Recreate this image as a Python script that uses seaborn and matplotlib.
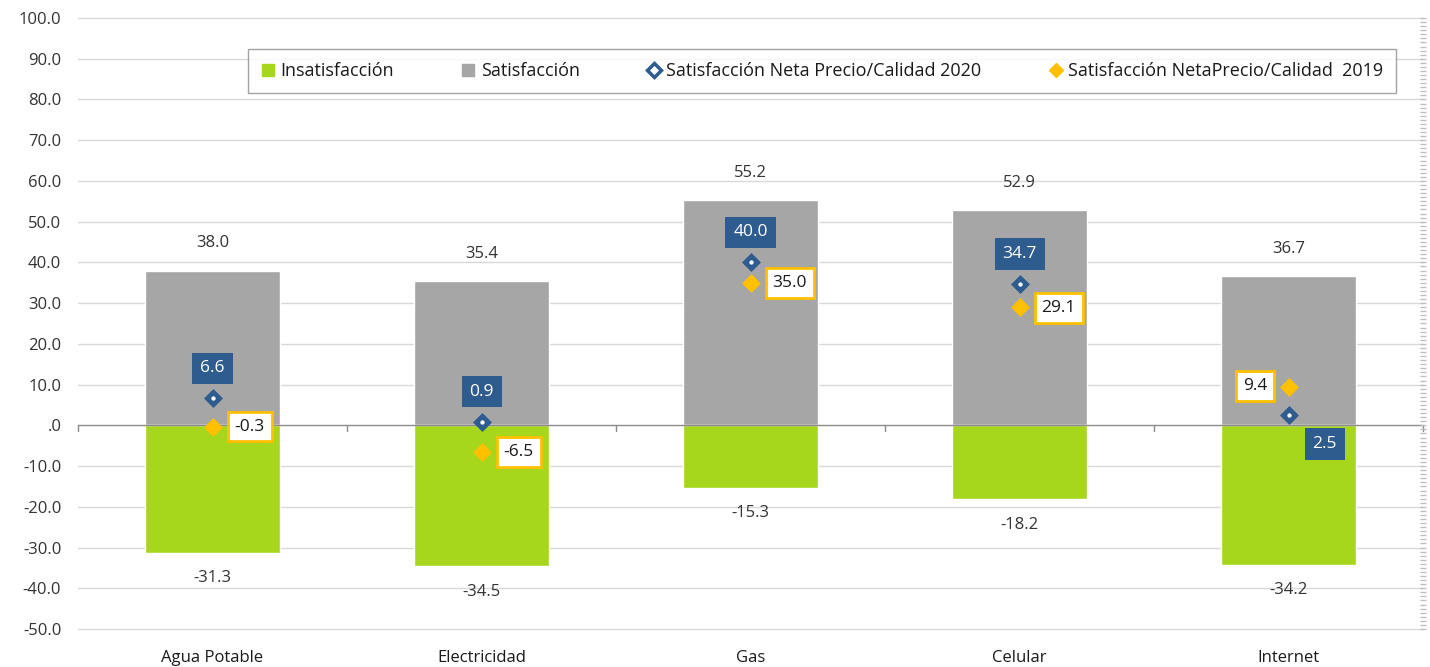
import matplotlib
matplotlib.use("Agg")
import matplotlib.pyplot as plt
from matplotlib.lines import Line2D
from matplotlib.ticker import MultipleLocator, FixedLocator
import seaborn as sns
import pandas as pd
import numpy as np

categories = ["Agua Potable", "Electricidad", "Gas", "Celular", "Internet"]
satisfaccion = [38.0, 35.4, 55.2, 52.9, 36.7]
insatisfaccion = [-31.3, -34.5, -15.3, -18.2, -34.2]
neta_2020 = [6.6, 0.9, 40.0, 34.7, 2.5]
neta_2019 = [-0.3, -6.5, 35.0, 29.1, 9.4]
ytick_values = [-50, -40, -30, -20, -10, 0, 10, 20, 30, 40, 50, 60, 70, 80, 90, 100]
ytick_labels = ["-50.0", "-40.0", "-30.0", "-20.0", "-10.0", ".0", "10.0", "20.0",
                "30.0", "40.0", "50.0", "60.0", "70.0", "80.0", "90.0", "100.0"]

GREEN = "#A6D71C"
GRAY = "#A6A6A6"
BLUE = "#2F5C8F"
GOLD = "#FFC000"
TXT = "#333333"

sns.set_theme(style="white")
plt.rcParams["font.family"] = ["Open Sans", "DejaVu Sans"]
plt.rcParams["font.size"] = 11

df = pd.DataFrame({"cat": categories, "sat": satisfaccion, "insat": insatisfaccion,
                   "n20": neta_2020, "n19": neta_2019})

fig = plt.figure(figsize=(14.3, 6.67), dpi=100)
ax = fig.add_axes([78 / 1430, 1 - 629 / 667, (1423 - 78) / 1430, (629 - 18) / 667])

# gridlines
for v in ytick_values:
    if v != 0:
        ax.axhline(v, color="#D9D9D9", lw=1.0, zorder=0, clip_on=False)

sns.barplot(data=df, x="cat", y="sat", color=GRAY, width=0.5, saturation=1,
            ax=ax, zorder=2)
sns.barplot(data=df, x="cat", y="insat", color=GREEN, width=0.5, saturation=1,
            ax=ax, zorder=2)

# zero axis line with boundary ticks
ax.axhline(0, color="#8C8C8C", lw=1.0, zorder=3)
for b in np.arange(-0.5, 5.0, 1.0):
    ax.plot([b, b], [0, -1.3], color="#8C8C8C", lw=1.0, zorder=3, clip_on=False)

xs = np.arange(len(categories))
sns.scatterplot(x=xs, y=neta_2019, marker="D", s=80, color=GOLD, edgecolor=GOLD,
                ax=ax, zorder=5, legend=False)
sns.scatterplot(x=xs, y=neta_2020, marker="D", s=80, color=BLUE, edgecolor=BLUE,
                ax=ax, zorder=5, legend=False)
sns.scatterplot(x=xs, y=neta_2020, marker="o", s=8, color="white", edgecolor="white",
                ax=ax, zorder=6, legend=False)

# bar value labels
for i, (s, n) in enumerate(zip(satisfaccion, insatisfaccion)):
    ax.text(i, s + 6.7, f"{s:.1f}", ha="center", va="center", color=TXT, fontsize=12)
    ax.text(i, n - 6.3, f"{n:.1f}", ha="center", va="center", color=TXT, fontsize=12)

# marker labels
off20 = [(0, 30, "center"), (0, 30, "center"), (0, 30, "center"), (0, 30, "center"), (24, -29, "left")]
off19 = [(22, 0, "left"), (22, 0, "left"), (22, 0, "left"), (22, -1, "left"), (-21, 1, "right")]
for i in range(len(categories)):
    dx, dy, ha = off20[i]
    ax.annotate(f"{neta_2020[i]:.1f}", (i, neta_2020[i]), xytext=(dx, dy),
                textcoords="offset pixels", ha=ha, va="center", color="white",
                fontsize=12.5, zorder=7,
                bbox=dict(boxstyle="square,pad=0.45", fc=BLUE, ec=BLUE, lw=0))
    dx, dy, ha = off19[i]
    ax.annotate(f"{neta_2019[i]:.1f}", (i, neta_2019[i]), xytext=(dx, dy),
                textcoords="offset pixels", ha=ha, va="center", color="#1A1A1A",
                fontsize=12.5, zorder=7,
                bbox=dict(boxstyle="square,pad=0.4", fc="white", ec=GOLD, lw=2))

ax.set_xlim(-0.5, 4.5)
ax.set_ylim(-50, 100)
ax.set_yticks(ytick_values)
ax.set_yticklabels(ytick_labels, color=TXT, fontsize=12)
ax.set_xticks(xs)
ax.set_xticklabels(categories, color="#1A1A1A", fontsize=12)
ax.tick_params(axis="x", length=0, pad=15)
ax.tick_params(axis="y", length=0, pad=12)
ax.set_xlabel("")
ax.set_ylabel("")
if ax.get_legend() is not None:
    ax.get_legend().remove()
for sp in ax.spines.values():
    sp.set_visible(False)

# right side dense minor ticks
ax2 = ax.twinx()
ax2.set_ylim(-50, 100)
ax2.yaxis.set_major_locator(FixedLocator([]))
ax2.yaxis.set_minor_locator(MultipleLocator(1))
ax2.tick_params(axis="y", which="minor", length=4, width=1, color="#BFBFBF", direction="inout")
for sp in ax2.spines.values():
    sp.set_visible(False)

handles = [
    Line2D([], [], ls="", marker="s", ms=8, mfc=GREEN, mec=GREEN),
    Line2D([], [], ls="", marker="s", ms=8, mfc=GRAY, mec=GRAY),
    Line2D([], [], ls="", marker="D", ms=7, mfc="white", mec=BLUE, mew=2.5),
    Line2D([], [], ls="", marker="D", ms=7, mfc=GOLD, mec=GOLD),
]
labels = ["Insatisfacción", "Satisfacción", "Satisfacción Neta Precio/Calidad 2020",
          "Satisfacción NetaPrecio/Calidad  2019"]
leg = fig.legend(handles, labels, loc="center", bbox_to_anchor=(822 / 1430, 1 - 71 / 667),
                 ncol=4, frameon=True, fancybox=False, fontsize=13, handlelength=0.8,
                 handletextpad=0.3, columnspacing=3.7, borderpad=0.7,
                 labelcolor="#1A1A1A")
leg.get_frame().set_edgecolor("#8C8C8C")
leg.get_frame().set_linewidth(1.0)

fig.savefig("out.png", dpi=100, facecolor="white")
